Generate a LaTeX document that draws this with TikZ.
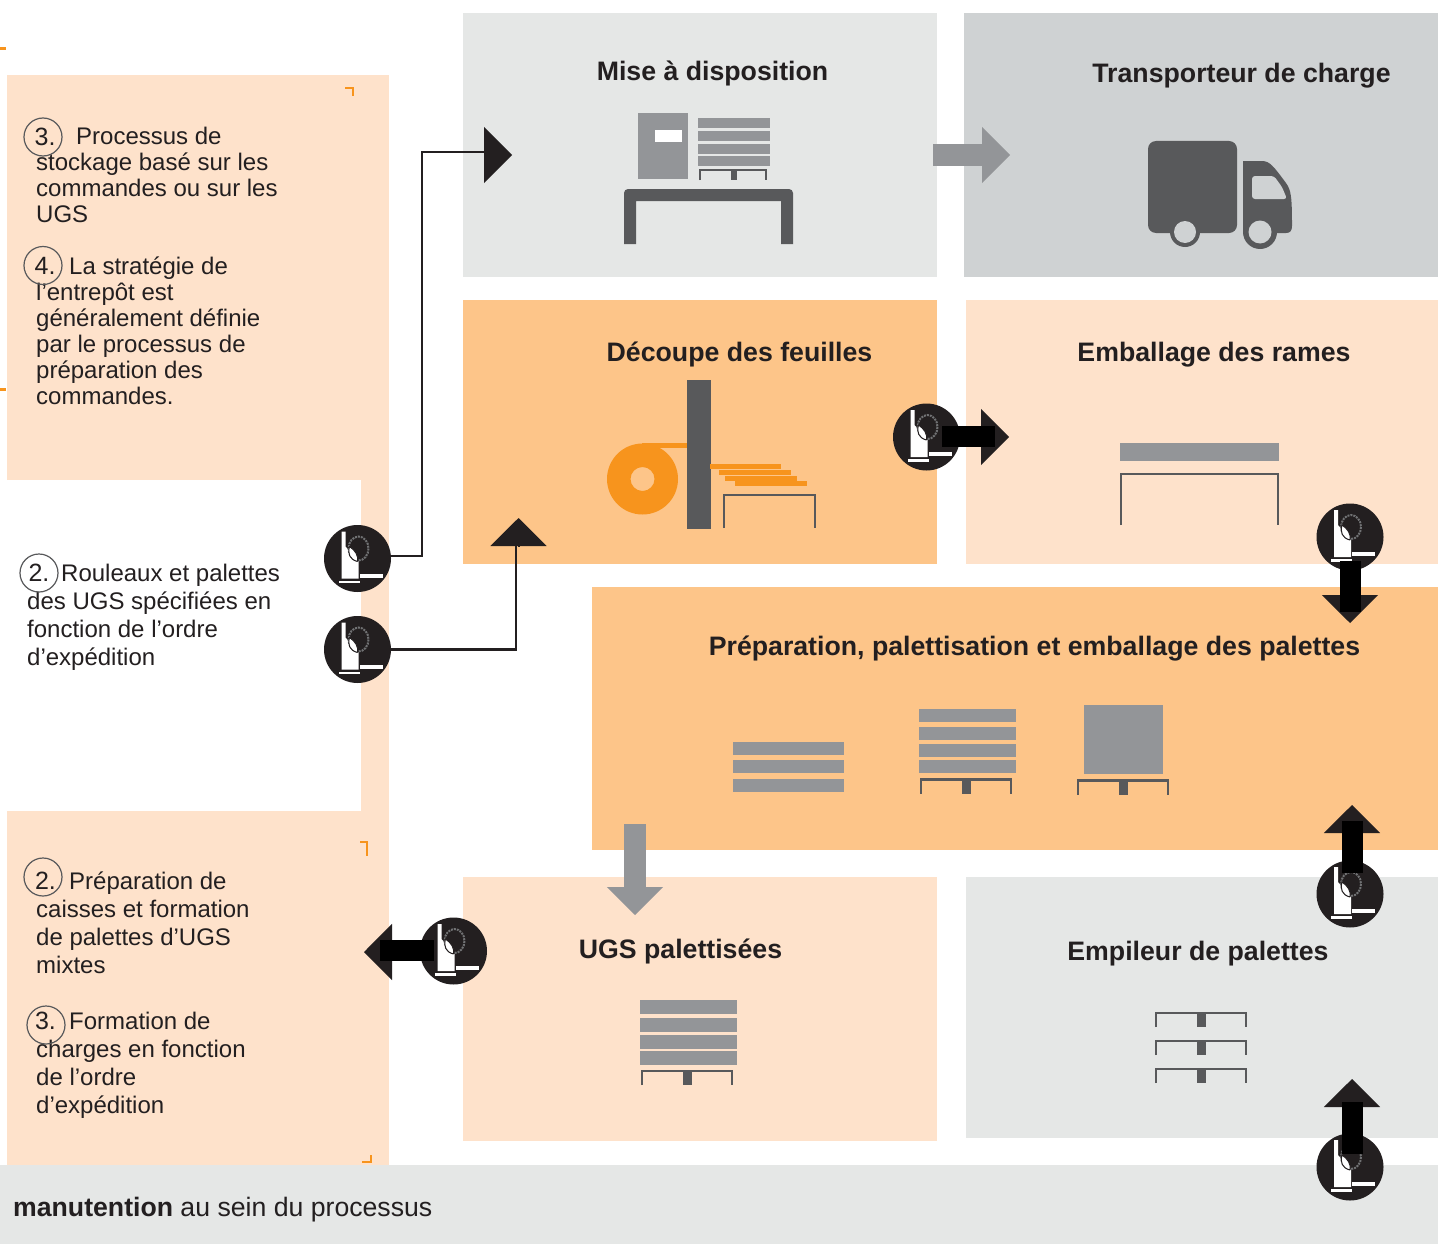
\documentclass[tikz,border=0pt]{standalone}
\usepackage{fontspec}
\setmainfont{Liberation Sans}
\usetikzlibrary{arrows.meta}
\definecolor{lightgrey}{HTML}{E5E7E6}
\definecolor{midgrey}{HTML}{CFD2D3}
\definecolor{bargrey}{HTML}{939598}
\definecolor{darkgrey}{HTML}{58595B}
\definecolor{inkblack}{HTML}{231F20}
\definecolor{peach}{HTML}{FEE2CB}
\definecolor{apricot}{HTML}{FDC589}
\definecolor{rollorange}{HTML}{F7941D}
\tikzset{
    title/.style={font=\fontsize{26.7}{30}\selectfont\bfseries, text=inkblack, inner sep=0},
    body/.style={font=\fontsize{24}{26}\selectfont, text=inkblack, inner sep=0, anchor=north west, align=left},
    bodywide/.style={body, font=\fontsize{24}{28}\selectfont},
    num/.style={draw=darkgrey, line width=1.2pt, circle, minimum size=38pt, inner sep=0, font=\fontsize{25}{26}\selectfont, text=inkblack},
    numtext/.style={inner sep=0, font=\fontsize{25}{26}\selectfont, text=inkblack},
    bar/.style={fill=bargrey, draw=none},
    wire/.style={draw=inkblack, line width=2.5pt},
    headblack/.style={draw=inkblack, line width=2pt, -{Triangle[length=28pt, width=56pt, fill=inkblack, color=inkblack]}},
    headgrey/.style={draw=bargrey, line width=2pt, -{Triangle[length=28pt, width=56pt, fill=bargrey, color=bargrey]}},
    shaft/.style={draw=black, line width=21pt},
    shaftgrey/.style={draw=bargrey, line width=22pt},
    robot/.style={circle, fill=inkblack, minimum size=67pt, inner sep=0, path picture={
        \begin{scope}[shift={(path picture bounding box.center)}]
            \fill[white] (-16, -27) -- (-12, -27) -- (-12, -12) -- (1, 3) -- (1, 20) -- (-16, 20) -- cycle;
            \fill[white] (-19, 22) rectangle (2, 24.5);
            \fill[white] (2, 15) rectangle (25, 19);
            \draw[bargrey!70!inkblack, line width=2pt, densely dotted] (1, -10) ellipse (10 and 12);
            \fill[white, draw=inkblack, line width=1pt] (0, 3) .. controls (-8, 1) and (-10, -5) .. (-8, -12) .. controls (-2, -8) and (1, -3) .. (0, 3);
        \end{scope}
    }},
    pallet/.pic={
        \draw[darkgrey, line width=2.5pt] (0, 14) -- (0, 0) -- (90, 0) -- (90, 14);
        \fill[darkgrey] (41, 0) rectangle (50, 14);
    },
}
\begin{document}
\begin{tikzpicture}[x=1pt, y=-1pt]
    \useasboundingbox (0, 0) rectangle (1440, 1244);

    \fill[peach] (7, 75) rectangle (389, 1165);
    \fill[white] (0, 480) rectangle (361, 811);
    \fill[lightgrey] (0, 1165) rectangle (1438, 1244);
    \fill[rollorange] (0, 47) rectangle (6, 50);
    \fill[rollorange] (0, 388) rectangle (6, 391);
    \draw[rollorange, line width=2pt] (345, 88.5) -- (352.5, 88.5) -- (352.5, 96);
    \draw[rollorange, line width=2pt] (360, 841.5) -- (367, 841.5) -- (367, 856);
    \draw[rollorange, line width=2pt] (362, 1162) -- (370.5, 1162) -- (370.5, 1155);

    \fill[lightgrey] (463, 13) rectangle (937, 277);
    \fill[midgrey] (964, 13) rectangle (1438, 277);
    \fill[apricot] (463, 300) rectangle (937, 564);
    \fill[peach] (966, 300) rectangle (1438, 564);
    \fill[apricot] (592, 587) rectangle (1438, 850);
    \fill[peach] (463, 877) rectangle (937, 1141);
    \fill[lightgrey] (966, 877) rectangle (1438, 1138);

    \draw (712.5, 73) node[title] (dispo) {Mise à disposition};
    \draw (1241.5, 76) node[title] (transport) {Transporteur de charge};
    \draw (739.5, 354) node[title] (decoupe) {Découpe des feuilles};
    \draw (1214, 355) node[title] (emballage) {Emballage des rames};
    \draw (1034.5, 649) node[title] (preparation) {Préparation, palettisation et emballage des palettes};
    \draw (680.5, 951) node[title] (ugs) {UGS palettisées};
    \draw (1198, 954) node[title] (empileur) {Empileur de palettes};
    \draw (13, 1210) node[anchor=west, inner sep=0, text=inkblack, font=\fontsize{26.65}{30}\selectfont] (manutention) {\textbf{manutention} au sein du processus};

    \draw (36, 126.5) node[body] (stockage) {\hspace{40pt}Processus de\\stockage basé sur les\\commandes ou sur les\\UGS};
    \draw (36, 256.5) node[body] (strategie) {\hspace{33pt}La stratégie de\\l’entrepôt est\\généralement définie\\par le processus de\\préparation des\\commandes.};
    \draw (27, 563.5) node[bodywide] (rouleaux) {\hspace{34pt}Rouleaux et palettes\\des UGS spécifiées en\\fonction de l’ordre\\d’expédition};
    \draw (36, 872) node[bodywide] (caisses) {\hspace{33pt}Préparation de\\caisses et formation\\de palettes d’UGS\\mixtes};
    \draw (36, 1012) node[bodywide] (charges) {\hspace{33pt}Formation de\\charges en fonction\\de l’ordre\\d’expédition};
    \draw (43, 137) node[num] (n3a) {\,3.};
    \draw (43, 265.5) node[num] (n4) {\,4.};
    \draw (39, 573) node[num] (n2a) {2.};
    \draw (43, 877) node[num] (n2b) {};
    \draw (45.5, 881) node[numtext] (n2btext) {2.};
    \draw (46, 1025) node[num] (n3b) {};
    \draw (45.5, 1021) node[numtext] (n3btext) {3.};

    \fill[bar] (638, 113) rectangle (688, 179);
    \fill[white] (655, 130) rectangle (682, 142);
    \fill[bar] (698, 118) rectangle (770, 128);
    \fill[bar] (698, 131) rectangle (770, 141);
    \fill[bar] (698, 144) rectangle (770, 154);
    \fill[bar] (698, 156) rectangle (770, 166);
    \draw[darkgrey, line width=2pt] (700, 180) -- (700, 170) -- (766, 170) -- (766, 180);
    \fill[darkgrey] (731, 170) rectangle (737, 180);
    \fill[darkgrey] (624, 244) -- (624, 193) arc (180:270:4) -- (789, 189) arc (270:360:4) -- (793, 244) -- (781, 244) -- (781, 201) -- (636, 201) -- (636, 244) -- cycle;

    \fill[darkgrey, rounded corners=8pt] (1148, 141) rectangle (1237, 233);
    \fill[darkgrey] (1243, 235) -- (1243, 161) -- (1262, 161) .. controls (1270, 161) and (1274, 167) .. (1286, 183) .. controls (1291, 190) and (1292, 196) .. (1292, 226) .. controls (1292, 231) and (1290, 233) .. (1286, 233) -- (1243, 233) -- cycle;
    \fill[midgrey, rounded corners=3pt] (1252, 176) -- (1274, 176) -- (1282, 187) -- (1287, 199) -- (1252, 199) -- cycle;
    \fill[darkgrey] (1185, 232) circle (15);
    \fill[midgrey] (1185, 232) circle (11);
    \fill[darkgrey] (1260, 232) circle (17);
    \fill[midgrey] (1260, 232) circle (11.5);

    \fill[rollorange, even odd rule] (642.5, 479) circle (35.5) (642.5, 479) circle (12);
    \fill[rollorange] (642, 443) rectangle (690, 448);
    \fill[darkgrey] (687, 380) rectangle (711, 529);
    \fill[rollorange] (710, 464) rectangle (781, 469);
    \fill[rollorange] (719, 470) rectangle (791, 475);
    \fill[rollorange] (725, 476) rectangle (797, 481);
    \fill[rollorange] (735, 481) rectangle (807, 486);
    \draw[darkgrey, line width=2pt] (724, 528) -- (724, 495) -- (814.5, 495) -- (814.5, 528);

    \fill[bar] (1120, 443) rectangle (1279, 461);
    \draw[darkgrey, line width=2pt] (1120.5, 525) -- (1120.5, 474) -- (1277.5, 474) -- (1277.5, 525);

    \fill[bar] (733, 742) rectangle (844, 755);
    \fill[bar] (733, 760) rectangle (844, 773);
    \fill[bar] (733, 779) rectangle (844, 792);
    \fill[bar] (919, 709) rectangle (1016, 722);
    \fill[bar] (919, 727) rectangle (1016, 740);
    \fill[bar] (919, 744) rectangle (1016, 757);
    \fill[bar] (919, 760) rectangle (1016, 773);
    \draw (921, 779.5) pic {pallet};
    \fill[bar] (1084, 705) rectangle (1163, 774);
    \draw (1078, 780.5) pic {pallet};

    \fill[bar] (640, 1000) rectangle (737, 1014);
    \fill[bar] (640, 1018) rectangle (737, 1032);
    \fill[bar] (640, 1035) rectangle (737, 1049);
    \fill[bar] (640, 1051) rectangle (737, 1065);
    \draw (642, 1071) pic {pallet};

    \draw (1156, 1013) pic {pallet};
    \draw (1156, 1041) pic {pallet};
    \draw (1156, 1069) pic {pallet};

    \draw (357.5, 558.5) node[robot] (robotdispo) {};
    \draw (357.5, 649.5) node[robot] (robotdecoupe) {};
    \draw (926.5, 437) node[robot] (robotcoupe) {};
    \draw (1350, 537) node[robot] (robotrames) {};
    \draw (1350, 894) node[robot] (robotpile) {};
    \draw (453.5, 951) node[robot] (robotugs) {};
    \draw (1350, 1167) node[robot] (robotbas) {};

    \coordinate (dispoin) at (512, 155);
    \coordinate (decoupein) at (518.5, 518);
    \coordinate (grisa) at (933, 155);
    \coordinate (grisb) at (1010, 155);
    \coordinate (grisc) at (635, 824);
    \coordinate (grisd) at (635, 915);

    \draw[wire] (robotdispo.east |- 0, 556) -- (422, 556) -- (422, 152) -- (490, 152);
    \draw[headblack] (490, 155) -- (dispoin);
    \draw[wire] (robotdecoupe.east) -- (516, 649.5) -- (516, 546);
    \draw[headblack] (518.5, 546) -- (decoupein);

    \draw[headgrey] (970, 155) -- (grisb);
    \draw[shaftgrey] (grisa) -- (985, 155);
    \draw[headgrey] (635, 870) -- (grisd);
    \draw[shaftgrey] (grisc) -- (635, 891);

    \draw[headblack] (970, 437) -- (1009, 437);
    \draw[shaft] (robotcoupe.east) ++(-18, -0.5) -- (995, 436.5);
    \draw[headblack] (1350, 580) -- (1350, 623);
    \draw[shaft] (robotrames.south) ++(0, -10) -- (1350, 612);
    \draw[headblack] (1352, 850) -- (1352, 805);
    \draw[shaft] (robotpile.north) ++(2.5, 13) -- (1352.5, 821);
    \draw[headblack] (1352, 1125) -- (1352, 1079);
    \draw[shaft] (robotbas.north) ++(2.5, 21) -- (1352.5, 1102);
    \draw[headblack] (400, 952) -- (364, 952);
    \draw[shaft] (robotugs.west) ++(14, -0.5) -- (380, 950.5);
\end{tikzpicture}
\end{document}
